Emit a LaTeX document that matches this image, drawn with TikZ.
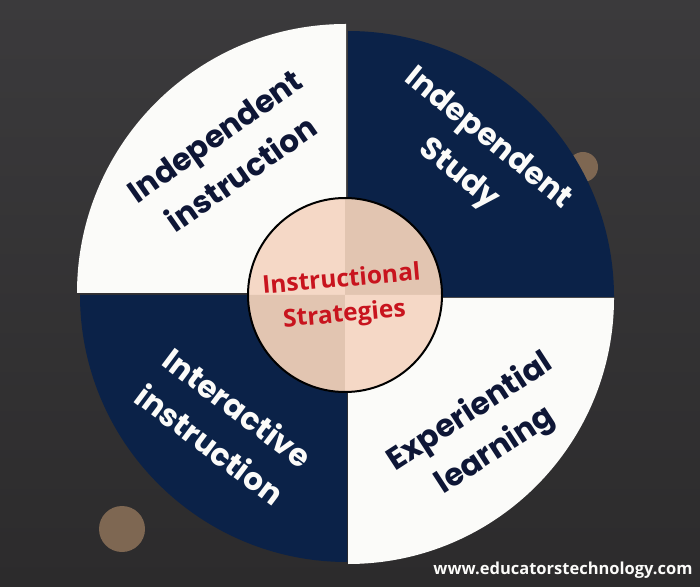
\documentclass[tikz,border=0pt]{standalone}
\usepackage{fontspec}
\setmainfont{Poppins}
\newfontfamily\hubfont{Open Sans}
\definecolor{board}{HTML}{3B3A3C}
\definecolor{boardlow}{HTML}{2C2B2C}
\definecolor{chalk}{HTML}{FBFBF9}
\definecolor{navy}{HTML}{0B2248}
\definecolor{ink}{HTML}{0E1636}
\definecolor{spot}{HTML}{7E6752}
\definecolor{peachlight}{HTML}{F5D8C6}
\definecolor{peachdark}{HTML}{E2C5B1}
\definecolor{hubred}{HTML}{C8141E}
\tikzset{
  quadlabel/.style={align=center,inner sep=1pt,font=\fontsize{31}{46}\selectfont\bfseries},
  hublabel/.style={align=center,inner sep=1pt,text=hubred,font=\hubfont\fontsize{24.5}{35}\selectfont\bfseries}
}
\begin{document}
\begin{tikzpicture}[x=1pt,y=1pt]
\path[use as bounding box] (0,0) rectangle (700,586);
\path[top color=board,bottom color=boardlow] (0,0) rectangle (700,586);

\path[fill=spot] (122,57) circle [radius=23];
\path[fill=spot] (583,419) circle [radius=15];

\path[fill=chalk] (346,293) -- ++(-269,0) arc [start angle=180,end angle=90,radius=269] -- cycle;
\path[fill=navy] (348,289) -- ++(0,266) arc [start angle=90,end angle=0,radius=266] -- cycle;
\path[fill=navy] (347,291) -- ++(0,-267) arc [start angle=270,end angle=180,radius=267] -- cycle;
\path[fill=chalk] (348,288) -- ++(266,0) arc [start angle=0,end angle=-90,radius=266] -- cycle;

\path[fill=peachlight] (345,291) -- ++(-97,0) arc [start angle=180,end angle=90,radius=97] -- cycle;
\path[fill=peachdark] (345,291) -- ++(0,97) arc [start angle=90,end angle=0,radius=97] -- cycle;
\path[fill=peachdark] (345,291) -- ++(0,-97) arc [start angle=270,end angle=180,radius=97] -- cycle;
\path[fill=peachlight] (345,291) -- ++(97,0) arc [start angle=0,end angle=-90,radius=97] -- cycle;
\node[circle,draw,line width=2pt,minimum size=194pt,inner sep=0pt] (hub) at (345,291) {};

\node[quadlabel,text=ink,rotate=35] (indinst) at (228,431) {Independent\\instruction};
\node[quadlabel,text=chalk,rotate=-39] (indstudy) at (473,429) {Independent\\Study};
\node[quadlabel,text=chalk,rotate=-37] (interinst) at (224,160) {Interactive\\instruction};
\node[quadlabel,text=ink,rotate=33] (experlearn) at (483,154) {Experiential\\learning};
\node[hublabel,rotate=5] (strategies) at ([yshift=-3pt,xshift=-2pt]hub.center) {Instructional\\Strategies};

\node[text=chalk,font=\hubfont\fontsize{16.5}{16.5}\selectfont\bfseries] (site) at (563,16) {www.educatorstechnology.com};
\end{tikzpicture}
\end{document}
